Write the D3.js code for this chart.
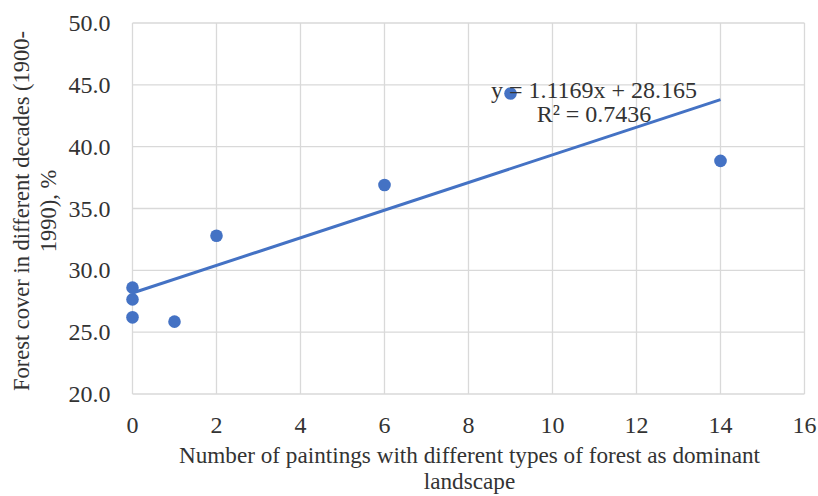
<!DOCTYPE html>
<html><head><meta charset="utf-8">
<script src="https://cdn.jsdelivr.net/npm/d3@7"></script>
<style>body{margin:0;background:#fff}svg{display:block}text{font-family:"Liberation Serif","Times New Roman",serif;fill:#333}</style>
</head><body><svg id="c" width="818" height="496"></svg>
<script>
const xValues = [0, 0, 0, 1, 2, 6, 9, 14];
const yValues = [28.6, 27.65, 26.2, 25.85, 32.8, 36.9, 44.3, 38.85];
const xTicks = [0, 2, 4, 6, 8, 10, 12, 14, 16];
const yTicks = [20, 25, 30, 35, 40, 45, 50];
const trendSlope = 1.1169, trendIntercept = 28.165, rSquared = 0.7436;
const xTitle = ["Number of paintings with different types of forest as dominant", "landscape"];
const yTitle = ["Forest cover in different decades (1900-", "1990), %"];

const svg = d3.select("#c");
const L = 132.5, R = 804.5, T = 23, B = 394;
const x = d3.scaleLinear().domain([0, 16]).range([L, R]);
const y = d3.scaleLinear().domain([20, 50]).range([B, T]);
const grid = "#d9d9d9";

svg.append("g").selectAll("line").data(yTicks).join("line")
  .attr("x1", L).attr("x2", R).attr("y1", d => y(d)).attr("y2", d => y(d))
  .attr("stroke", grid).attr("stroke-width", 1.3);
svg.append("g").selectAll("line").data(xTicks).join("line")
  .attr("y1", T).attr("y2", B).attr("x1", d => x(d)).attr("x2", d => x(d))
  .attr("stroke", grid).attr("stroke-width", 1.3);

const fs = 24;
svg.append("g").selectAll("text").data(yTicks).join("text")
  .attr("x", L - 22).attr("y", d => y(d) + 8).attr("text-anchor", "end")
  .attr("font-size", fs).text(d => d3.format(".1f")(d));
svg.append("g").selectAll("text").data(xTicks).join("text")
  .attr("x", d => x(d)).attr("y", 433).attr("text-anchor", "middle")
  .attr("font-size", fs).text(d => d);

svg.append("g").selectAll("text").data(xTitle).join("text")
  .attr("x", (L + R) / 2 + 1).attr("y", (d, i) => 463 + i * 26).attr("text-anchor", "middle")
  .attr("font-size", 23.2).text(d => d);
svg.append("g").selectAll("text").data(yTitle).join("text")
  .attr("transform", (d, i) => `translate(${29 + i * 27},${211}) rotate(-90)`)
  .attr("text-anchor", "middle").attr("font-size", 22.5).text(d => d);

const xs = d3.extent(xValues);
svg.append("line")
  .attr("x1", x(xs[0])).attr("y1", y(trendIntercept + trendSlope * xs[0]))
  .attr("x2", x(xs[1])).attr("y2", y(trendIntercept + trendSlope * xs[1]))
  .attr("stroke", "#4472C4").attr("stroke-width", 3);

svg.append("g").selectAll("circle").data(xValues.map((v, i) => [v, yValues[i]])).join("circle")
  .attr("cx", d => x(d[0])).attr("cy", d => y(d[1])).attr("r", 6.3).attr("fill", "#4472C4");

const eq = [`y = ${trendSlope}x + ${trendIntercept}`, `R² = ${rSquared}`];
svg.append("g").selectAll("text").data(eq).join("text")
  .attr("x", 594).attr("y", (d, i) => 98 + i * 24).attr("text-anchor", "middle")
  .attr("font-size", fs).text(d => d);
</script></body></html>
